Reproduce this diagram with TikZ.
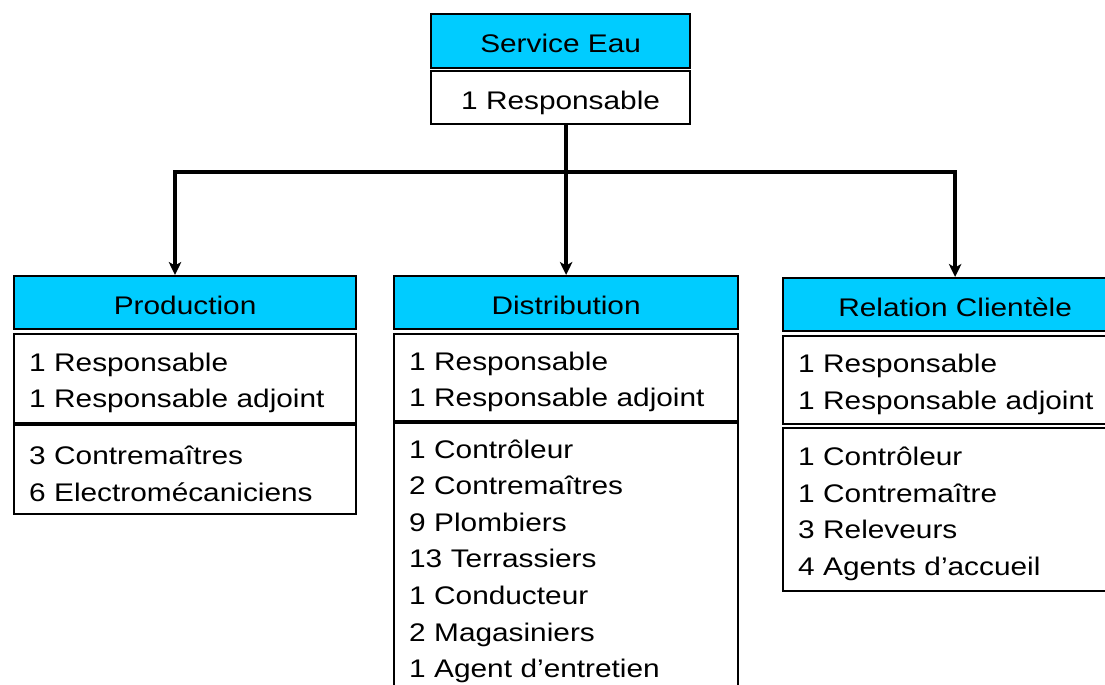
\documentclass[tikz,border=0pt]{standalone}
\usepackage{fontspec}
\usetikzlibrary{arrows.meta}
\newfontfamily\arialx[FakeStretch=1.17]{Liberation Sans}
\definecolor{eaucyan}{HTML}{00CCFF}

\begin{document}
\begin{tikzpicture}[x=0.02cm, y=-0.02cm]
		\tikzset{hd/.style={draw=black, line width=1.3pt, fill=eaucyan, anchor=north west, inner sep=0pt, minimum height=1.06cm, text height=0.46cm, text depth=0pt, font=\arialx\fontsize{14.5}{20.8}\selectfont}};
		\tikzset{lst/.style={draw=black, line width=1.3pt, fill=white, anchor=north west, align=left, inner xsep=0.3cm, inner ysep=0pt, execute at begin node=\rule{0pt}{0.54cm}, font=\arialx\fontsize{14.5}{20.8}\selectfont}};
		\tikzset{arr/.style={line width=2.2pt, -{Stealth[length=2.6mm, width=2.5mm, inset=0.7mm]}}};
		\clip (0,0) rectangle (1105,684);

		\node[hd, minimum width=5.18cm, minimum height=1.08cm] (se) at (430,13) {Service Eau};
		\node[hd, fill=white, minimum width=5.18cm] (seresp) at (430,70) {1 Responsable};

		\node[hd, minimum width=6.84cm] (prodhead) at (13,275) {Production};
		\node[lst, text width=6.24cm, minimum height=1.78cm] (prodresp) at (13,333) {1 Responsable\\1 Responsable adjoint};
		\node[lst, text width=6.24cm, minimum height=1.78cm] (prodstaff) at (13,424) {3 Contrema\^itres\\6 Electrom\'ecaniciens};

		\node[hd, minimum width=6.88cm] (disthead) at (393,275) {Distribution};
		\node[lst, text width=6.28cm, minimum height=1.74cm] (distresp) at (393,333) {1 Responsable\\1 Responsable adjoint};
		\node[lst, text width=6.28cm, minimum height=5.36cm] (diststaff) at (393,422) {1 Contr\^oleur\\2 Contrema\^itres\\9 Plombiers\\13 Terrassiers\\1 Conducteur\\2 Magasiniers\\1 Agent d’entretien};

		\node[hd, minimum width=6.88cm] (relhead) at (782,277) {Relation Client\`ele};
		\node[lst, text width=6.28cm, minimum height=1.76cm] (relresp) at (782,335) {1 Responsable\\1 Responsable adjoint};
		\node[lst, text width=6.28cm, minimum height=3.26cm] (relstaff) at (782,427) {1 Contr\^oleur\\1 Contrema\^itre\\3 Releveurs\\4 Agents d’accueil};

		\coordinate (split) at (565,172);
		\coordinate (prodin) at (175,172);

		\draw[arr] (disthead.north |- seresp.south) -- (disthead.north);
		\draw[arr] (split) -- (prodin) -- (prodin |- prodhead.north);
		\draw[arr] (split) -| (relhead.north);

\end{tikzpicture}
\end{document}
